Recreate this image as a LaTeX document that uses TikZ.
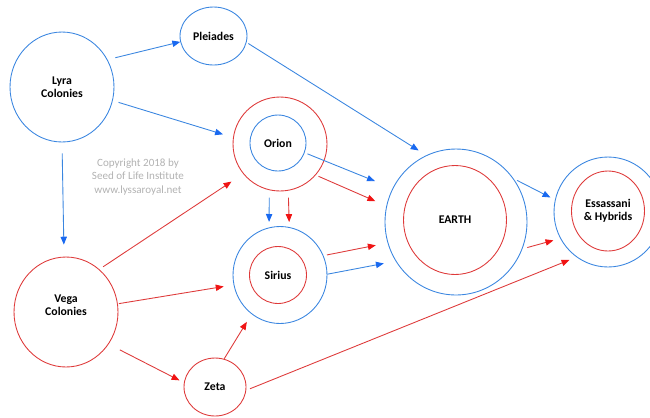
\documentclass[tikz,border=0pt]{standalone}
\usepackage{fontspec}
\setmainfont{Carlito}
\usepackage{xcolor}
\usetikzlibrary{shapes.geometric,arrows.meta,positioning,calc}

\definecolor{skyblue}{RGB}{58,134,224}
\definecolor{tipblue}{RGB}{25,105,240}
\definecolor{lightred}{RGB}{222,58,58}
\definecolor{tipred}{RGB}{240,20,20}
\definecolor{notegray}{RGB}{178,178,178}

\tikzset{
  world/.style={ellipse,draw,line width=0.5pt,inner sep=0pt,align=center,
    font=\fontsize{6.7}{7.7}\selectfont\bfseries},
  blueworld/.style={world,draw=skyblue},
  redworld/.style={world,draw=lightred},
  bluearrow/.style={draw=skyblue,line width=0.5pt,-{Triangle[length=4.5pt,width=3.6pt,color=tipblue]}},
  redarrow/.style={draw=lightred,line width=0.5pt,-{Triangle[length=4.5pt,width=3.6pt,color=tipred]}}
}

\begin{document}
\begin{tikzpicture}[x=0.02cm,y=-0.02cm]
\clip (0,0) rectangle (650,417);

% star systems
\node[blueworld,minimum width=2.08cm,minimum height=2.2cm] (lyra) at (62,87) {Lyra\\Colonies};
\node[blueworld,minimum width=1.34cm,minimum height=1.16cm] (pleiades) at (213.5,36) {Pleiades};
\node[redworld,minimum size=1.88cm] (orion) at (280,144) {};
\node[blueworld,minimum size=1.12cm] (orionin) at (278,143) {Orion};
\node[redworld,minimum width=2.08cm,minimum height=2.2cm] (vega) at (66,312) {Vega\\Colonies\\[0pt]};
\node[blueworld,minimum width=1.88cm,minimum height=1.94cm] (sirius) at (280,275) {};
\node[redworld,minimum size=1.14cm] (siriusin) at (278,275) {Sirius};
\node[redworld,minimum width=1.24cm,minimum height=1.16cm] (zeta) at (215,387) {Zeta};
\node[blueworld,minimum width=2.84cm,minimum height=2.92cm] (earth) at (456,222) {};
\node[redworld,minimum width=2.06cm,minimum height=2.18cm] (earthin) at (455,220) {EARTH};
\node[blueworld,minimum width=2.16cm,minimum height=2.2cm] (essassani) at (608,212) {};
\node[redworld,minimum width=1.46cm,minimum height=1.6cm] (essassaniin) at (608,211) {Essassani\\\& Hybrids};

\node[align=center,text=notegray,font=\fontsize{6.3}{7.6}\selectfont] (note) at (138,177)
  {Copyright 2018 by\\Seed of Life Institute\\www.lyssaroyal.net};

% blue lines
\draw[bluearrow,shorten <=0.16cm] (lyra.31.6) -- (pleiades.190);
\draw[bluearrow,shorten <=0.12cm,shorten >=0.21cm] (lyra.-15) -- (orion.172);
\draw[bluearrow,shorten <=0.22cm,shorten >=0.24cm] (lyra.-90) -- (vega.92);
\draw[bluearrow,shorten <=0.04cm,shorten >=0.18cm] (pleiades.-11.6) -- (earth.114.7);
\draw[bluearrow,shorten <=0.06cm,shorten >=0.38cm] (orionin.-20.8) -- (earth.152.9);
\draw[bluearrow,shorten <=0.15cm,shorten >=0.11cm] (orion.-103.8) -- (sirius.103);
\draw[bluearrow,shorten >=0.24cm] (sirius.1.2) -- (earth.-147.6);
\draw[bluearrow,shorten <=0.08cm,shorten >=0.1cm] (earth.37) -- (essassani.167.4);

% red lines
\draw[redarrow,shorten <=0.06cm,shorten >=0.24cm] (orion.-41) -- (earth.167.5);
\draw[redarrow,shorten <=0.14cm,shorten >=0.1cm] (orion.-80.4) -- (sirius.79);
\draw[redarrow,shorten <=0.09cm,shorten >=0.28cm] (vega.52) -- (orion.-141.6);
\draw[redarrow,shorten <=0.02cm,shorten >=0.2cm] (vega.9.8) -- (sirius.-168);
\draw[redarrow,shorten <=0.25cm,shorten >=0.1cm] (vega.-37.6) -- (zeta.172);
\draw[redarrow,shorten >=0.18cm] (zeta.72) -- (sirius.-126.5);
\draw[redarrow,shorten <=0.08cm,shorten >=0.15cm] (zeta.-6.5) -- (essassani.-125.8);
\draw[redarrow,shorten <=0.07cm,shorten >=0.24cm] (sirius.24) -- (earth.-163.3);
\draw[redarrow,shorten <=0.1cm,shorten >=0.14cm] (earth.-22) -- (essassani.-151.8);
\end{tikzpicture}
\end{document}
